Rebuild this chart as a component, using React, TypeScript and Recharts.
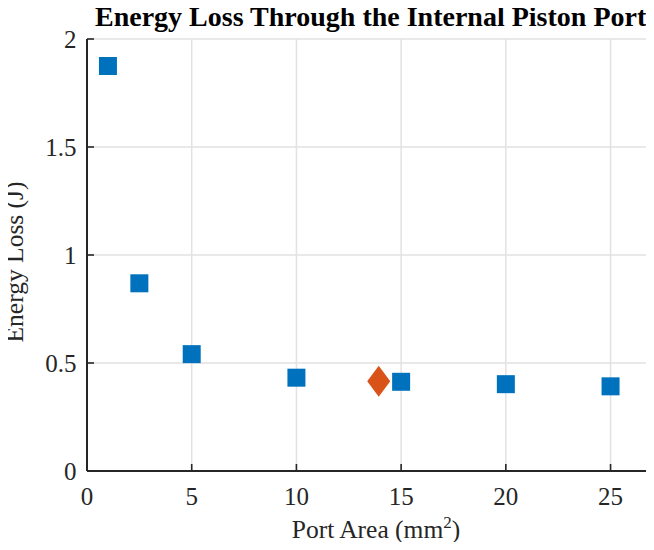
import React from 'react';
import { ScatterChart, Scatter, XAxis, YAxis, CartesianGrid } from 'recharts';

const portArea = [1, 2.5, 5, 10, 15, 20, 25];
const energyLoss = [1.875, 0.869, 0.541, 0.432, 0.413, 0.402, 0.392];
const selectedArea = [13.93];
const selectedLoss = [0.415];
const xTicks = [0, 5, 10, 15, 20, 25];
const yTicks = [0, 0.5, 1, 1.5, 2];
const titleText = 'Energy Loss Through the Internal Piston Ports';
const xLabelMain = 'Port Area (mm';
const xLabelSup = '2';
const yLabelText = 'Energy Loss (J)';

const sweepData = portArea.map((x, i) => ({ x, y: energyLoss[i] }));
const selectedData = selectedArea.map((x, i) => ({ x, y: selectedLoss[i] }));

const FONT = '"Liberation Serif", "Times New Roman", serif';
const AXIS = '#262626';

const XTick = (props: any) => {
  const { x, y, payload } = props;
  return (
    <g>
      <line x1={x} x2={x} y1={y} y2={y - 7} stroke={AXIS} strokeWidth={1.6} />
      <text x={x} y={y + 34} textAnchor="middle" style={{ fontFamily: FONT }} fontSize={25} fill={AXIS}>
        {payload.value}
      </text>
    </g>
  );
};

const YTick = (props: any) => {
  const { x, y, payload } = props;
  return (
    <g>
      <line x1={x} x2={x + 7} y1={y} y2={y} stroke={AXIS} strokeWidth={1.6} />
      <text x={x - 10.5} y={y + 9} textAnchor="end" style={{ fontFamily: FONT }} fontSize={25} fill={AXIS}>
        {payload.value}
      </text>
    </g>
  );
};

const Square = (props: any) => {
  const { cx, cy } = props;
  return <rect x={cx - 9} y={cy - 9} width={18} height={18} fill="#0072BD" />;
};

const Diamond = (props: any) => {
  const { cx, cy } = props;
  return (
    <polygon
      points={`${cx},${cy - 15.5} ${cx + 11.5},${cy} ${cx},${cy + 15.5} ${cx - 11.5},${cy}`}
      fill="#D95319"
    />
  );
};

const XLabel = (props: any) => {
  const vb = props.viewBox || {};
  const cx = vb.x + vb.width / 2;
  return (
    <text x={cx} y={vb.y + 67} textAnchor="middle" style={{ fontFamily: FONT }} fontSize={25.5} fill={AXIS}>
      {xLabelMain}
      <tspan fontSize={17} dy={-10}>{xLabelSup}</tspan>
      <tspan dy={10}>)</tspan>
    </text>
  );
};

const YLabel = (props: any) => {
  const vb = props.viewBox || {};
  const cy = vb.y + vb.height / 2 + 7;
  const tx = 23;
  return (
    <text
      x={tx}
      y={cy}
      transform={`rotate(-90, ${tx}, ${cy})`}
      textAnchor="middle"
      style={{ fontFamily: FONT }}
      fontSize={25.5}
      fill={AXIS}
    >
      {yLabelText}
    </text>
  );
};

export default function App() {
  return (
    <div style={{ margin: -8, width: 654, height: 550, overflow: 'hidden', position: 'relative', background: '#fff' }}>
      <ScatterChart width={668} height={550} margin={{ top: 39, right: 3, bottom: 0, left: 0 }}>
        <CartesianGrid stroke="#e2e2e2" strokeWidth={1.5} />
        <XAxis
          type="number"
          dataKey="x"
          domain={[0, 27.6]}
          ticks={xTicks}
          interval={0}
          allowDataOverflow
          height={79}
          tickSize={0}
          tickMargin={0}
          tickLine={false}
          tick={<XTick />}
          axisLine={{ stroke: AXIS, strokeWidth: 2 }}
          label={{ content: <XLabel /> } as any}
        />
        <YAxis
          type="number"
          dataKey="y"
          domain={[0, 2]}
          ticks={yTicks}
          interval={0}
          allowDataOverflow
          width={87}
          tickSize={0}
          tickMargin={0}
          tickLine={false}
          tick={<YTick />}
          axisLine={{ stroke: AXIS, strokeWidth: 2 }}
          label={{ content: <YLabel /> } as any}
        />
        <Scatter data={sweepData} shape={<Square />} isAnimationActive={false} />
        <Scatter data={selectedData} shape={<Diamond />} isAnimationActive={false} />
      </ScatterChart>
      <svg
        width={654}
        height={40}
        style={{ position: 'absolute', left: 0, top: 0, pointerEvents: 'none' }}
      >
        <text x={95} y={26} style={{ fontFamily: FONT }} fontSize={28} fontWeight="bold" fill="#000">
          {titleText}
        </text>
      </svg>
    </div>
  );
}
